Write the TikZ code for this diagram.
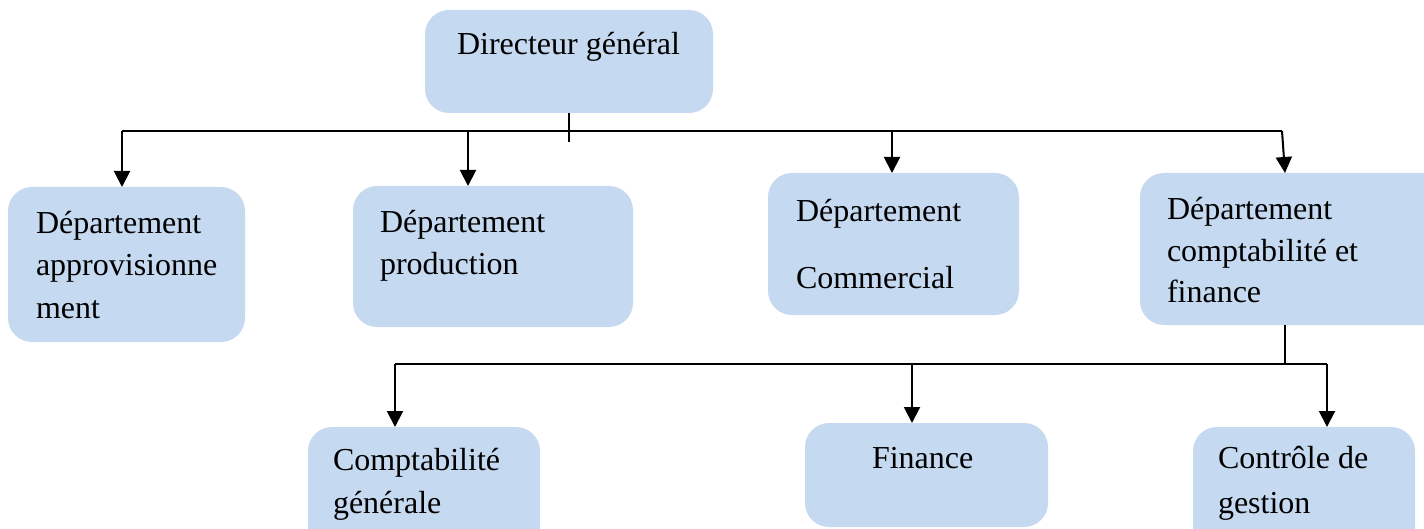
\documentclass[tikz,border=0pt]{standalone}
\usepackage{fontspec}
\setmainfont{Liberation Serif}
\usetikzlibrary{arrows.meta}
\definecolor{boxblue}{RGB}{197,217,240}
\tikzset{
  unitbox/.style={draw=none, fill=boxblue, rounded corners=12pt, inner sep=0pt, outer sep=0pt, anchor=north west},
  lbl/.style={anchor=base west, inner sep=0pt, outer sep=0pt, font=\fontsize{16pt}{21pt}\selectfont, text=black},
  wire/.style={line width=1pt, draw=black},
  arr/.style={wire, -{Triangle[width=8pt,length=8pt]}}
}
\newcommand{\orgbox}[5]{%
  \node[unitbox, minimum width={(#4-#2)*0.5pt}, minimum height={(#5-#3)*0.5pt}] (#1) at (#2,#3) {};}
\begin{document}
\begin{tikzpicture}[x=0.5pt, y=-0.5pt]
\useasboundingbox (0,0) rectangle (1424,529);
\clip (0,0) rectangle (1424,529);

% boxes: name, left, top, right, bottom
\orgbox{dg}{425}{10}{713}{113}
\orgbox{d1}{8}{187}{245}{342}
\orgbox{d2}{353}{186}{633}{327}
\orgbox{d3}{768}{173}{1019}{315}
\orgbox{d4}{1140}{173}{1450}{325}
\orgbox{s1}{308}{427}{540}{570}
\orgbox{s2}{805}{423}{1048}{527}
\orgbox{s3}{1193}{427}{1415}{570}

% labels
\node[lbl] (tdg) at (457,55) {Directeur général};
\node[lbl] (t1a) at (36,234) {Département};
\node[lbl] (t1b) at (36,276) {approvisionne};
\node[lbl] (t1c) at (36,318) {ment};
\node[lbl] (t2a) at (380,233) {Département};
\node[lbl] (t2b) at (380,275) {production};
\node[lbl] (t3a) at (796,222) {Département};
\node[lbl] (t3b) at (796,289) {Commercial};
\node[lbl] (t4a) at (1167,220) {Département};
\node[lbl] (t4b) at (1167,262) {comptabilité et};
\node[lbl] (t4c) at (1167,303) {finance};
\node[lbl] (t5a) at (333,470) {Comptabilité};
\node[lbl] (t5b) at (333,513) {générale};
\node[lbl] (t6a) at (872,468) {Finance};
\node[lbl] (t7a) at (1218,468) {Contrôle de};
\node[lbl] (t7b) at (1218,513) {gestion};

% upper bus
\coordinate (stub) at (569,142);
\coordinate (b1) at (122,131);
\coordinate (b2) at (468,131);
\coordinate (b3) at (892,131);
\coordinate (b4) at (1282,131);
\coordinate (t4) at (1285,173);
\draw[wire] (dg.south) -- (stub);
\draw[wire] (b1) -- (b4);
\draw[arr] (b1) -- (b1 |- d1.north);
\draw[arr] (b2) -- (b2 |- d2.north);
\draw[arr] (b3) -- (b3 |- d3.north);
\draw[arr] (b4) -- (t4);

% lower bus
\coordinate (c0) at (1285,364);
\coordinate (c1) at (395,364);
\coordinate (c2) at (912,364);
\coordinate (c3) at (1327,364);
\draw[wire] (c0 |- d4.south) -- (c0);
\draw[wire] (c1) -- (c3);
\draw[arr] (c1) -- (c1 |- s1.north);
\draw[arr] (c2) -- (c2 |- s2.north);
\draw[arr] (c3) -- (c3 |- s3.north);
\end{tikzpicture}
\end{document}
